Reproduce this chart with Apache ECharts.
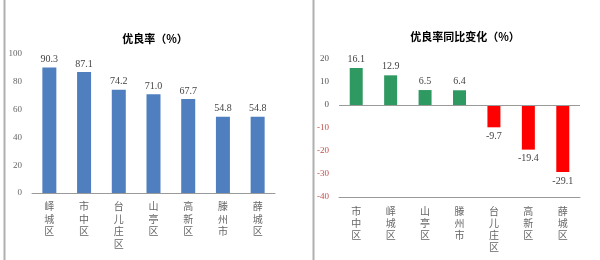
<!DOCTYPE html>
<html><head><meta charset="utf-8">
<script src="https://cdn.jsdelivr.net/npm/echarts@6/dist/echarts.min.js"></script>
<style>html,body{margin:0;padding:0;background:#fff}#c{width:600px;height:260px}</style>
</head><body><div id="c"></div>
<script>
var leftTitle = '优良率（%）';
var leftCategories = ['峄城区','市中区','台儿庄区','山亭区','高新区','滕州市','薛城区'];
var leftValues = [90.3, 87.1, 74.2, 71.0, 67.7, 54.8, 54.8];
var leftTicks = {min: 0, max: 100, interval: 20};

var rightTitle = '优良率同比变化（%）';
var rightCategories = ['市中区','峄城区','山亭区','滕州市','台儿庄区','高新区','薛城区'];
var rightValues = [16.1, 12.9, 6.5, 6.4, -9.7, -19.4, -29.1];
var rightTicks = {min: -40, max: 20, interval: 10};

var serif = '"Liberation Serif", "Noto Sans CJK SC", serif';
var cjk = '"Noto Sans CJK SC", sans-serif';
function vert(v){ return v.split('').join('\n'); }

var rightData = rightValues.map(function(v){
  return {
    value: v,
    itemStyle: {color: v >= 0 ? '#2e9960' : '#ff0000'},
    label: {position: v >= 0 ? 'top' : 'bottom'}
  };
});

var chart = echarts.init(document.getElementById('c'), null, {renderer: 'canvas'});
chart.setOption({
  animation: false,
  graphic: [
    {type: 'line', shape: {x1: 4.5, y1: 0, x2: 4.5, y2: 260}, style: {stroke: '#b0b0b0', lineWidth: 2}},
    {type: 'line', shape: {x1: 313.5, y1: 0, x2: 313.5, y2: 260}, style: {stroke: '#b0b0b0', lineWidth: 2}}
  ],
  title: [
    {text: leftTitle, left: 150, top: 28, textAlign: 'center',
     textStyle: {fontFamily: cjk, fontSize: 11, fontWeight: 'bold', color: '#000'}},
    {text: rightTitle, left: 460, top: 26, textAlign: 'center',
     textStyle: {fontFamily: cjk, fontSize: 11, fontWeight: 'bold', color: '#000'}}
  ],
  grid: [
    {left: 32, top: 54, width: 243, height: 139, containLabel: false},
    {left: 339, top: 59, width: 241, height: 138, containLabel: false}
  ],
  xAxis: [
    {type: 'category', gridIndex: 0, data: leftCategories,
     axisLine: {lineStyle: {color: '#9a9a9a', width: 1}},
     axisTick: {show: false},
     axisLabel: {formatter: vert, fontFamily: cjk, fontSize: 10, lineHeight: 12.5, color: '#666', margin: 7, interval: 0}},
    {type: 'category', gridIndex: 1, data: rightCategories,
     axisLine: {onZero: false, lineStyle: {color: '#9a9a9a', width: 1}},
     axisTick: {show: false},
     axisLabel: {formatter: vert, fontFamily: cjk, fontSize: 10, lineHeight: 12, color: '#666', margin: 8, interval: 0}}
  ],
  yAxis: [
    {type: 'value', gridIndex: 0, min: leftTicks.min, max: leftTicks.max, interval: leftTicks.interval,
     axisLine: {show: false}, axisTick: {show: false}, splitLine: {show: false},
     axisLabel: {fontFamily: serif, fontSize: 9, color: '#666', margin: 10}},
    {type: 'value', gridIndex: 1, min: rightTicks.min, max: rightTicks.max, interval: rightTicks.interval,
     axisLine: {show: false}, axisTick: {show: false}, splitLine: {show: false},
     axisLabel: {fontFamily: serif, fontSize: 9, margin: 10,
       color: function(v){ return Number(v) < 0 ? '#c0504d' : '#555'; }}}
  ],
  series: [
    {type: 'bar', xAxisIndex: 0, yAxisIndex: 0, data: leftValues, barWidth: 14,
     itemStyle: {color: '#4f7fbf'},
     label: {show: true, position: 'top', distance: 3, fontFamily: serif, fontSize: 10, color: '#444',
       formatter: function(p){ return p.value.toFixed(1); }}},
    {type: 'bar', xAxisIndex: 1, yAxisIndex: 1, data: rightData, barWidth: 13,
     label: {show: true, distance: 4, fontFamily: serif, fontSize: 10, color: '#444',
       formatter: function(p){ return p.value.toFixed(1); }},
     markLine: {silent: true, symbol: 'none', label: {show: false},
       lineStyle: {color: '#9a9a9a', type: 'solid', width: 1},
       data: [{yAxis: 0}]}}
  ]
});
</script>
</body></html>
